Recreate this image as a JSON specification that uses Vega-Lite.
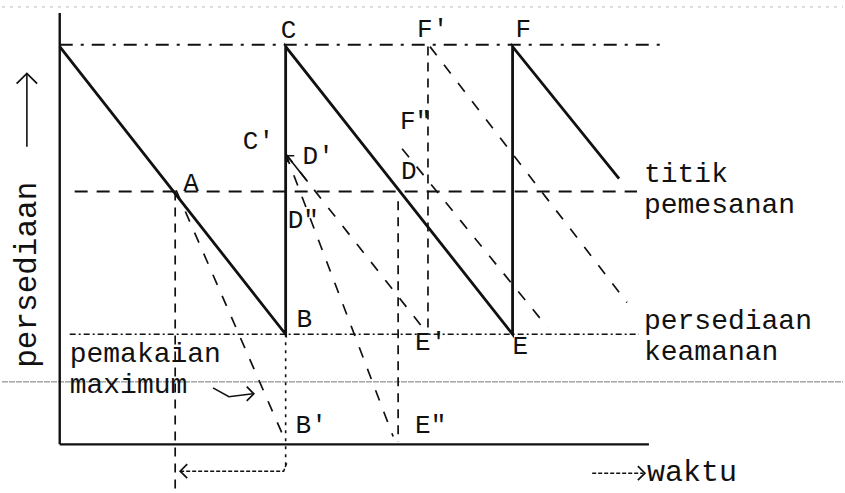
{
  "$schema": "https://vega.github.io/schema/vega-lite/v6.json",
  "width": 845,
  "height": 493,
  "padding": 0,
  "autosize": {"type": "fit", "contains": "padding"},
  "background": "white",
  "config": {"view": {"stroke": null}},
  "datasets": {
    "lines": [
      {"id": "ay", "s": "axis", "o": 1, "x": 58, "y": 480},
      {"id": "ay", "s": "axis", "o": 2, "x": 58, "y": 45},
      {"id": "ax", "s": "axis", "o": 1, "x": 58, "y": 45},
      {"id": "ax", "s": "axis", "o": 2, "x": 650, "y": 45},
      {"id": "saw", "s": "saw", "o": 1, "x": 58, "y": 446},
      {"id": "saw", "s": "saw", "o": 2, "x": 285, "y": 156},
      {"id": "saw", "s": "saw", "o": 3, "x": 285, "y": 446},
      {"id": "saw", "s": "saw", "o": 4, "x": 513, "y": 156},
      {"id": "saw", "s": "saw", "o": 5, "x": 513, "y": 446},
      {"id": "saw", "s": "saw", "o": 6, "x": 620, "y": 313},
      {"id": "top", "s": "top", "o": 1, "x": 58, "y": 448},
      {"id": "top", "s": "top", "o": 2, "x": 667, "y": 448},
      {"id": "rop", "s": "rop", "o": 1, "x": 73, "y": 300},
      {"id": "rop", "s": "rop", "o": 2, "x": 638, "y": 300},
      {"id": "ss", "s": "ss", "o": 1, "x": 68, "y": 156},
      {"id": "ss", "s": "ss", "o": 2, "x": 640, "y": 156},
      {"id": "scan", "s": "scan", "o": 1, "x": 0, "y": 108},
      {"id": "scan", "s": "scan", "o": 2, "x": 845, "y": 108},
      {"id": "scan2", "s": "scan2", "o": 1, "x": 0, "y": 486},
      {"id": "scan2", "s": "scan2", "o": 2, "x": 845, "y": 486},
      {"id": "vA", "s": "vdash", "o": 1, "x": 174, "y": 300},
      {"id": "vA", "s": "vdash", "o": 2, "x": 174, "y": 0},
      {"id": "vD", "s": "vdash", "o": 1, "x": 398, "y": 290},
      {"id": "vD", "s": "vdash", "o": 2, "x": 398, "y": 48},
      {"id": "vF", "s": "vdash", "o": 1, "x": 428, "y": 446},
      {"id": "vF", "s": "vdash", "o": 2, "x": 428, "y": 158},
      {"id": "vB", "s": "vdot", "o": 1, "x": 285, "y": 156},
      {"id": "vB", "s": "vdot", "o": 2, "x": 285, "y": 23},
      {"id": "dA", "s": "diag", "o": 1, "x": 175, "y": 301},
      {"id": "dA", "s": "diag", "o": 2, "x": 281, "y": 57},
      {"id": "dC1", "s": "diag", "o": 1, "x": 285, "y": 338},
      {"id": "dC1", "s": "diag", "o": 2, "x": 393, "y": 53},
      {"id": "dC2", "s": "diag", "o": 1, "x": 285, "y": 338},
      {"id": "dC2", "s": "diag", "o": 2, "x": 428, "y": 156},
      {"id": "dD", "s": "diag", "o": 1, "x": 402, "y": 343},
      {"id": "dD", "s": "diag", "o": 2, "x": 548, "y": 163},
      {"id": "dF", "s": "diag", "o": 1, "x": 430, "y": 446},
      {"id": "dF", "s": "diag", "o": 2, "x": 628, "y": 188},
      {"id": "aL", "s": "arrow", "o": 1, "x": 25, "y": 345},
      {"id": "aL", "s": "arrow", "o": 2, "x": 25, "y": 419},
      {"id": "aM", "s": "arrow", "o": 1, "x": 212, "y": 102},
      {"id": "aM", "s": "arrow", "o": 2, "x": 228, "y": 93},
      {"id": "aM", "s": "arrow", "o": 3, "x": 252, "y": 96},
      {"id": "aD", "s": "arrow", "o": 1, "x": 288, "y": 334},
      {"id": "aD", "s": "arrow", "o": 2, "x": 307, "y": 310},
      {"id": "aB", "s": "arrowdot", "o": 1, "x": 179, "y": 18},
      {"id": "aB", "s": "arrowdot", "o": 2, "x": 283, "y": 18},
      {"id": "aB", "s": "arrowdot", "o": 3, "x": 286, "y": 26},
      {"id": "aW", "s": "arrowdot", "o": 1, "x": 593, "y": 16},
      {"id": "aW", "s": "arrowdot", "o": 2, "x": 644, "y": 16}
    ],
    "heads": [
      {"dir": "up", "x": 25, "y": 419},
      {"dir": "left", "x": 179, "y": 18},
      {"dir": "right", "x": 646, "y": 16},
      {"dir": "right", "x": 253, "y": 96},
      {"dir": "upleft", "x": 287, "y": 336}
    ],
    "labels": [
      {"kind": "letter", "t": "C", "x": 280, "y": 455},
      {"kind": "letter", "t": "F'", "x": 417, "y": 456},
      {"kind": "letter", "t": "F", "x": 516, "y": 456},
      {"kind": "letter", "t": "C'", "x": 242, "y": 343},
      {"kind": "letter", "t": "D'", "x": 302, "y": 328},
      {"kind": "letter", "t": "F\"", "x": 400, "y": 363},
      {"kind": "letter", "t": "D", "x": 401, "y": 313},
      {"kind": "letter", "t": "A", "x": 182, "y": 300},
      {"kind": "letter", "t": "D\"", "x": 287, "y": 263},
      {"kind": "letter", "t": "B", "x": 296, "y": 163},
      {"kind": "letter", "t": "E'", "x": 415, "y": 140},
      {"kind": "letter", "t": "E", "x": 513, "y": 136},
      {"kind": "letter", "t": "B'", "x": 295, "y": 56},
      {"kind": "letter", "t": "E\"", "x": 415, "y": 56},
      {"kind": "word", "t": "waktu", "x": 648, "y": 8},
      {"kind": "vword", "t": "persediaan", "x": 34, "y": 216}
    ],
    "blocks": [
      {"t": ["titik", "pemesanan"], "x": 645, "y": 310},
      {"t": ["persediaan", "keamanan"], "x": 645, "y": 161},
      {"t": ["pemakaian", "maximum"], "x": 68, "y": 128}
    ]
  },
  "encoding": {
    "x": {"field": "x", "type": "quantitative", "scale": {"domain": [0, 845], "nice": false, "zero": false}, "axis": null},
    "y": {"field": "y", "type": "quantitative", "scale": {"domain": [0, 493], "nice": false, "zero": false}, "axis": null}
  },
  "layer": [
    {"data": {"name": "lines"}, "transform": [{"filter": "datum.s === 'scan2'"}],
     "mark": {"type": "line", "color": "#bbbbbb", "strokeWidth": 1, "strokeDash": [3, 5]},
     "encoding": {"detail": {"field": "id"}, "order": {"field": "o"}}},
    {"data": {"name": "lines"}, "transform": [{"filter": "datum.s === 'scan'"}],
     "mark": {"type": "line", "color": "#777777", "strokeWidth": 1, "strokeDash": [6, 1]},
     "encoding": {"detail": {"field": "id"}, "order": {"field": "o"}}},
    {"data": {"name": "lines"}, "transform": [{"filter": "datum.s === 'axis'"}],
     "mark": {"type": "line", "color": "#111111", "strokeWidth": 2.4},
     "encoding": {"detail": {"field": "id"}, "order": {"field": "o"}}},
    {"data": {"name": "lines"}, "transform": [{"filter": "datum.s === 'saw'"}],
     "mark": {"type": "line", "color": "#111111", "strokeWidth": 2.8},
     "encoding": {"detail": {"field": "id"}, "order": {"field": "o"}}},
    {"data": {"name": "lines"}, "transform": [{"filter": "datum.s === 'top'"}],
     "mark": {"type": "line", "color": "#111111", "strokeWidth": 2, "strokeDash": [13, 8, 3, 8]},
     "encoding": {"detail": {"field": "id"}, "order": {"field": "o"}}},
    {"data": {"name": "lines"}, "transform": [{"filter": "datum.s === 'rop'"}],
     "mark": {"type": "line", "color": "#111111", "strokeWidth": 2, "strokeDash": [13, 9]},
     "encoding": {"detail": {"field": "id"}, "order": {"field": "o"}}},
    {"data": {"name": "lines"}, "transform": [{"filter": "datum.s === 'ss'"}],
     "mark": {"type": "line", "color": "#111111", "strokeWidth": 1.5, "strokeDash": [6, 3, 2, 3]},
     "encoding": {"detail": {"field": "id"}, "order": {"field": "o"}}},
    {"data": {"name": "lines"}, "transform": [{"filter": "datum.s === 'vdash'"}],
     "mark": {"type": "line", "color": "#111111", "strokeWidth": 1.7, "strokeDash": [9, 7]},
     "encoding": {"detail": {"field": "id"}, "order": {"field": "o"}}},
    {"data": {"name": "lines"}, "transform": [{"filter": "datum.s === 'vdot'"}],
     "mark": {"type": "line", "color": "#111111", "strokeWidth": 1.6, "strokeDash": [3, 5]},
     "encoding": {"detail": {"field": "id"}, "order": {"field": "o"}}},
    {"data": {"name": "lines"}, "transform": [{"filter": "datum.s === 'diag'"}],
     "mark": {"type": "line", "color": "#111111", "strokeWidth": 1.7, "strokeDash": [11, 12]},
     "encoding": {"detail": {"field": "id"}, "order": {"field": "o"}}},
    {"data": {"name": "lines"}, "transform": [{"filter": "datum.s === 'arrow'"}],
     "mark": {"type": "line", "color": "#111111", "strokeWidth": 1.6},
     "encoding": {"detail": {"field": "id"}, "order": {"field": "o"}}},
    {"data": {"name": "lines"}, "transform": [{"filter": "datum.s === 'arrowdot'"}],
     "mark": {"type": "line", "color": "#111111", "strokeWidth": 1.5, "strokeDash": [4, 2]},
     "encoding": {"detail": {"field": "id"}, "order": {"field": "o"}}},
    {"data": {"name": "heads"}, "transform": [{"filter": "datum.dir === 'up'"}],
     "mark": {"type": "point", "shape": "M-1,1L0,0L1,1", "filled": false, "color": "#111111", "strokeWidth": 1.8, "size": 420, "opacity": 1}},
    {"data": {"name": "heads"}, "transform": [{"filter": "datum.dir === 'left'"}],
     "mark": {"type": "point", "shape": "M1,-1L0,0L1,1", "filled": false, "color": "#111111", "strokeWidth": 1.7, "size": 200, "opacity": 1}},
    {"data": {"name": "heads"}, "transform": [{"filter": "datum.dir === 'right'"}],
     "mark": {"type": "point", "shape": "M-1,-1L0,0L-1,1", "filled": false, "color": "#111111", "strokeWidth": 1.7, "size": 200, "opacity": 1}},
    {"data": {"name": "heads"}, "transform": [{"filter": "datum.dir === 'upleft'"}],
     "mark": {"type": "point", "shape": "M0,1.4L0,0L1.4,0", "filled": false, "color": "#111111", "strokeWidth": 1.5, "size": 90, "opacity": 1}},
    {"data": {"name": "labels"}, "transform": [{"filter": "datum.kind === 'letter'"}],
     "mark": {"type": "text", "font": "Liberation Mono", "fontSize": 26, "align": "left", "baseline": "alphabetic", "color": "#111111"},
     "encoding": {"text": {"field": "t"}}},
    {"data": {"name": "labels"}, "transform": [{"filter": "datum.kind === 'word'"}],
     "mark": {"type": "text", "font": "Liberation Mono", "fontSize": 30, "align": "left", "baseline": "alphabetic", "color": "#111111"},
     "encoding": {"text": {"field": "t"}}},
    {"data": {"name": "blocks"},
     "mark": {"type": "text", "font": "Liberation Mono", "fontSize": 28, "lineHeight": 31, "align": "left", "baseline": "alphabetic", "color": "#111111"},
     "encoding": {"text": {"field": "t"}}},
    {"data": {"name": "labels"}, "transform": [{"filter": "datum.kind === 'vword'"}],
     "mark": {"type": "text", "font": "Liberation Mono", "fontSize": 31, "align": "center", "baseline": "alphabetic", "angle": 270, "color": "#111111"},
     "encoding": {"text": {"field": "t"}}}
  ]
}
